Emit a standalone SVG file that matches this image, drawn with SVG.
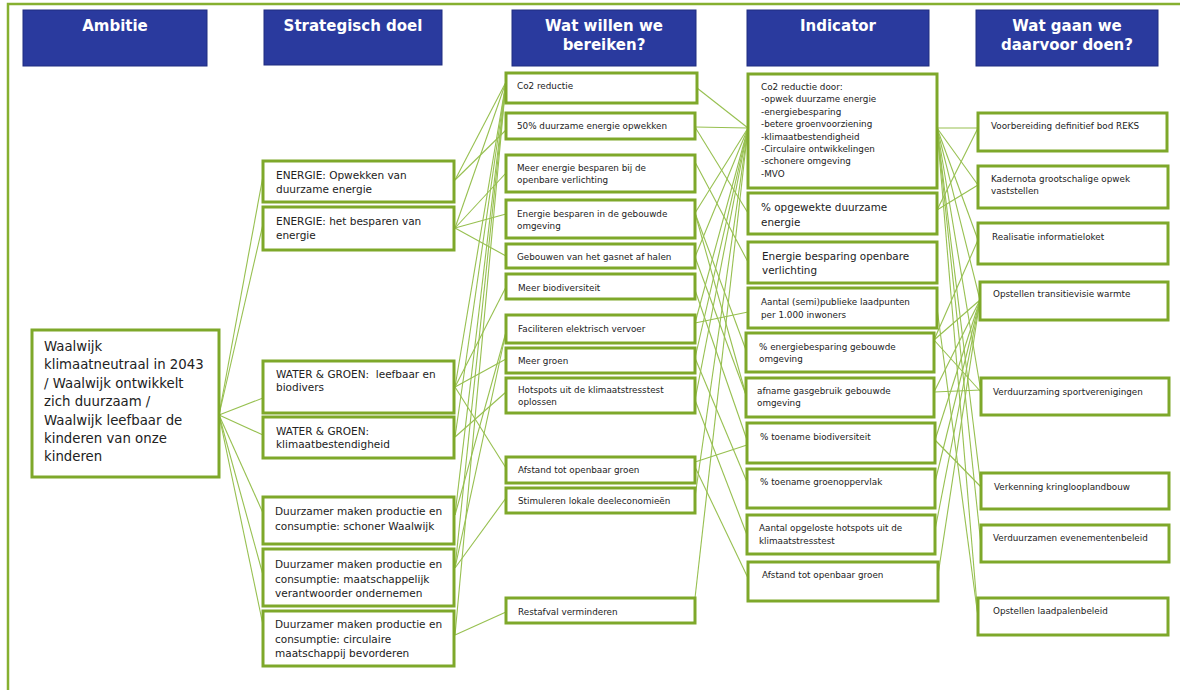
<svg xmlns="http://www.w3.org/2000/svg" width="1180" height="690" viewBox="0 0 1180 690">
<style>
.hdr{fill:#2a3a9e;stroke:#1f2c80;stroke-width:1}
.ht{font-family:"DejaVu Sans",Verdana,sans-serif;font-weight:bold;font-size:15px;fill:#ffffff;text-anchor:middle}
.box{fill:#ffffff;stroke:#7ea82a;stroke-width:3}
.t{font-family:"DejaVu Sans",Verdana,sans-serif;fill:#222222}
.t1{font-size:13.3px}
.t2{font-size:10.5px}
.t3{font-size:8.8px}
.t4{font-size:10.4px}
.cn line{stroke:#97c050;stroke-width:1.1}
</style>
<rect width="1180" height="690" fill="#ffffff"/>
<path d="M8,690 V4 H1180" fill="none" stroke="#86b030" stroke-width="2.5"/>

<g id="headers">
<rect class="hdr" x="23" y="10" width="184" height="56"/>
<text class="ht" x="115" y="31">Ambitie</text>
<rect class="hdr" x="264" y="10" width="178" height="55"/>
<text class="ht" x="353" y="31">Strategisch doel</text>
<rect class="hdr" x="512" y="10" width="184" height="56"/>
<text class="ht" x="604" y="31">Wat willen we</text>
<text class="ht" x="604" y="50">bereiken?</text>
<rect class="hdr" x="747" y="10" width="182" height="56"/>
<text class="ht" x="838" y="31">Indicator</text>
<rect class="hdr" x="976" y="10" width="182" height="56"/>
<text class="ht" x="1067" y="31">Wat gaan we</text>
<text class="ht" x="1067" y="50">daarvoor doen?</text>
</g>

<g id="connectors" class="cn">
<line x1="219" y1="415" x2="263" y2="176"/>
<line x1="219" y1="415" x2="263" y2="224"/>
<line x1="219" y1="415" x2="263" y2="398"/>
<line x1="219" y1="415" x2="263" y2="435"/>
<line x1="219" y1="415" x2="263" y2="513"/>
<line x1="219" y1="415" x2="263" y2="575"/>
<line x1="219" y1="415" x2="263" y2="625"/>

<line x1="455" y1="180" x2="506" y2="82"/>
<line x1="455" y1="180" x2="506" y2="130"/>
<line x1="455" y1="228" x2="506" y2="82"/>
<line x1="455" y1="228" x2="506" y2="173"/>
<line x1="455" y1="228" x2="506" y2="214"/>
<line x1="455" y1="228" x2="506" y2="256"/>
<line x1="455" y1="387" x2="506" y2="82"/>
<line x1="455" y1="387" x2="506" y2="287"/>
<line x1="455" y1="387" x2="506" y2="359"/>
<line x1="455" y1="387" x2="506" y2="468"/>
<line x1="455" y1="437" x2="506" y2="82"/>
<line x1="455" y1="437" x2="506" y2="392"/>
<line x1="455" y1="515" x2="506" y2="82"/>
<line x1="455" y1="515" x2="506" y2="332"/>
<line x1="455" y1="568" x2="506" y2="82"/>
<line x1="455" y1="568" x2="506" y2="332"/>
<line x1="455" y1="568" x2="506" y2="498"/>
<line x1="455" y1="635" x2="506" y2="82"/>
<line x1="455" y1="635" x2="506" y2="612"/>

<line x1="697" y1="88" x2="748" y2="128"/>
<line x1="695" y1="127" x2="748" y2="213"/>
<line x1="695" y1="127" x2="748" y2="128"/>
<line x1="695" y1="162" x2="748" y2="262"/>
<line x1="695" y1="213" x2="748" y2="128"/>
<line x1="695" y1="213" x2="746" y2="350"/>
<line x1="695" y1="213" x2="746" y2="395"/>
<line x1="695" y1="257" x2="748" y2="128"/>
<line x1="695" y1="257" x2="746" y2="395"/>
<line x1="695" y1="290" x2="747" y2="440"/>
<line x1="695" y1="323" x2="748" y2="312"/>
<line x1="695" y1="323" x2="748" y2="128"/>
<line x1="695" y1="358" x2="747" y2="482"/>
<line x1="695" y1="358" x2="748" y2="128"/>
<line x1="695" y1="400" x2="747" y2="535"/>
<line x1="695" y1="400" x2="748" y2="128"/>
<line x1="695" y1="467" x2="748" y2="578"/>
<line x1="695" y1="462" x2="747" y2="445"/>
<line x1="695" y1="497" x2="748" y2="128"/>
<line x1="695" y1="598" x2="748" y2="128"/>

<line x1="937" y1="128" x2="978" y2="128"/>
<line x1="937" y1="128" x2="978" y2="185"/>
<line x1="937" y1="128" x2="978" y2="240"/>
<line x1="937" y1="128" x2="980" y2="300"/>
<line x1="937" y1="128" x2="981" y2="392"/>
<line x1="937" y1="128" x2="981" y2="487"/>
<line x1="937" y1="128" x2="981" y2="545"/>
<line x1="937" y1="128" x2="978" y2="617"/>
<line x1="937" y1="210" x2="978" y2="128"/>
<line x1="937" y1="210" x2="978" y2="185"/>
<line x1="937" y1="308" x2="978" y2="617"/>
<line x1="934" y1="340" x2="978" y2="240"/>
<line x1="934" y1="340" x2="980" y2="300"/>
<line x1="934" y1="340" x2="981" y2="392"/>
<line x1="934" y1="392" x2="980" y2="300"/>
<line x1="934" y1="392" x2="981" y2="390"/>
<line x1="935" y1="440" x2="980" y2="300"/>
<line x1="935" y1="440" x2="981" y2="487"/>
<line x1="935" y1="482" x2="980" y2="300"/>
<line x1="935" y1="530" x2="980" y2="300"/>
<line x1="938" y1="575" x2="980" y2="300"/>
</g>

<g id="ambitie">
<rect class="box" x="32" y="330" width="187" height="147"/>
<text class="t t1" x="44"><tspan x="44" y="351">Waalwijk</tspan><tspan x="44" y="369.4">klimaatneutraal in 2043</tspan><tspan x="44" y="387.8">/ Waalwijk ontwikkelt</tspan><tspan x="44" y="406.2">zich duurzaam /</tspan><tspan x="44" y="424.6">Waalwijk leefbaar de</tspan><tspan x="44" y="443">kinderen van onze</tspan><tspan x="44" y="461.4">kinderen</tspan></text>
</g>

<g id="doel-energie-opwekken">
<rect class="box" x="263" y="161" width="191" height="41"/>
<text class="t t2"><tspan x="276" y="179">ENERGIE: Opwekken van</tspan><tspan x="276" y="193">duurzame energie</tspan></text>
</g>
<g id="doel-energie-besparen">
<rect class="box" x="263" y="207" width="191" height="43"/>
<text class="t t2"><tspan x="276" y="225">ENERGIE: het besparen van</tspan><tspan x="276" y="239">energie</tspan></text>
</g>
<g id="doel-water-leefbaar">
<rect class="box" x="263" y="361" width="191" height="52"/>
<text class="t t2" xml:space="preserve"><tspan x="276" y="378">WATER &amp; GROEN:  leefbaar en</tspan><tspan x="276" y="391">biodivers</tspan></text>
</g>
<g id="doel-water-klimaat">
<rect class="box" x="263" y="417" width="191" height="41"/>
<text class="t t2"><tspan x="276" y="435">WATER &amp; GROEN:</tspan><tspan x="276" y="447.5">klimaatbestendigheid</tspan></text>
</g>
<g id="doel-schoner">
<rect class="box" x="263" y="497" width="191" height="47"/>
<text class="t t2"><tspan x="275" y="515">Duurzamer maken productie en</tspan><tspan x="275" y="529.5">consumptie: schoner Waalwijk</tspan></text>
</g>
<g id="doel-mvo">
<rect class="box" x="263" y="549" width="191" height="57"/>
<text class="t t2"><tspan x="275" y="568">Duurzamer maken productie en</tspan><tspan x="275" y="582.5">consumptie: maatschappelijk</tspan><tspan x="275" y="597">verantwoorder ondernemen</tspan></text>
</g>
<g id="doel-circulair">
<rect class="box" x="263" y="611" width="191" height="55"/>
<text class="t t2"><tspan x="275" y="628">Duurzamer maken productie en</tspan><tspan x="275" y="642.5">consumptie: circulaire</tspan><tspan x="275" y="657">maatschappij bevorderen</tspan></text>
</g>

<g id="wat-co2">
<rect class="box" x="506" y="73" width="191" height="30"/>
<text class="t t3" x="517" y="89">Co2 reductie</text>
</g>
<g id="wat-50">
<rect class="box" x="506" y="113" width="189" height="26"/>
<text class="t t3" x="517" y="128.5">50% duurzame energie opwekken</text>
</g>
<g id="wat-verlichting">
<rect class="box" x="506" y="155" width="189" height="37"/>
<text class="t t3"><tspan x="517" y="171">Meer energie besparen bij de</tspan><tspan x="517" y="183">openbare verlichting</tspan></text>
</g>
<g id="wat-gebouwde">
<rect class="box" x="506" y="200" width="189" height="38"/>
<text class="t t3"><tspan x="517" y="217">Energie besparen in de gebouwde</tspan><tspan x="517" y="229">omgeving</tspan></text>
</g>
<g id="wat-gasnet">
<rect class="box" x="506" y="244" width="189" height="24"/>
<text class="t t3" x="517" y="260">Gebouwen van het gasnet af halen</text>
</g>
<g id="wat-biodiversiteit">
<rect class="box" x="506" y="274" width="189" height="25"/>
<text class="t t3" x="518" y="291">Meer biodiversiteit</text>
</g>
<g id="wat-vervoer">
<rect class="box" x="506" y="315" width="189" height="28"/>
<text class="t t3" x="518" y="332">Faciliteren elektrisch vervoer</text>
</g>
<g id="wat-groen">
<rect class="box" x="506" y="348" width="189" height="25"/>
<text class="t t3" x="518" y="364">Meer groen</text>
</g>
<g id="wat-hotspots">
<rect class="box" x="506" y="378" width="189" height="35"/>
<text class="t t3"><tspan x="518" y="393">Hotspots uit de klimaatstresstest</tspan><tspan x="518" y="405">oplossen</tspan></text>
</g>
<g id="wat-afstand">
<rect class="box" x="506" y="457" width="189" height="26"/>
<text class="t t3" x="518" y="473">Afstand tot openbaar groen</text>
</g>
<g id="wat-deeleconomie">
<rect class="box" x="506" y="488" width="189" height="25"/>
<text class="t t3" x="518" y="504">Stimuleren lokale deeleconomieën</text>
</g>
<g id="wat-restafval">
<rect class="box" x="506" y="598" width="189" height="25"/>
<text class="t t3" x="518" y="615">Restafval verminderen</text>
</g>

<g id="ind-co2">
<rect class="box" x="748" y="74" width="189" height="114"/>
<text class="t t3"><tspan x="761" y="90">Co2 reductie door:</tspan><tspan x="761" y="102.4">-opwek duurzame energie</tspan><tspan x="761" y="114.8">-energiebesparing</tspan><tspan x="761" y="127.2">-betere groenvoorziening</tspan><tspan x="761" y="139.6">-klimaatbestendigheid</tspan><tspan x="761" y="152">-Circulaire ontwikkelingen</tspan><tspan x="761" y="164.4">-schonere omgeving</tspan><tspan x="761" y="176.8">-MVO</tspan></text>
</g>
<g id="ind-opgewekt">
<rect class="box" x="748" y="193" width="189" height="41"/>
<text class="t t4"><tspan x="761" y="211">% opgewekte duurzame</tspan><tspan x="761" y="226">energie</tspan></text>
</g>
<g id="ind-verlichting">
<rect class="box" x="748" y="242" width="189" height="41"/>
<text class="t t4"><tspan x="762" y="260">Energie besparing openbare</tspan><tspan x="762" y="274">verlichting</tspan></text>
</g>
<g id="ind-laadpunten">
<rect class="box" x="748" y="288" width="189" height="40"/>
<text class="t t3"><tspan x="761" y="305">Aantal (semi)publieke laadpunten</tspan><tspan x="761" y="318">per 1.000 inwoners</tspan></text>
</g>
<g id="ind-gebouwde">
<rect class="box" x="746" y="333" width="188" height="39"/>
<text class="t t3"><tspan x="759" y="350">% energiebesparing gebouwde</tspan><tspan x="759" y="362">omgeving</tspan></text>
</g>
<g id="ind-gas">
<rect class="box" x="746" y="378" width="188" height="39"/>
<text class="t t3"><tspan x="757" y="394">afname gasgebruik gebouwde</tspan><tspan x="757" y="406">omgeving</tspan></text>
</g>
<g id="ind-biodiversiteit">
<rect class="box" x="747" y="423" width="188" height="40"/>
<text class="t t3" x="760" y="440">% toename biodiversiteit</text>
</g>
<g id="ind-groen">
<rect class="box" x="747" y="469" width="188" height="39"/>
<text class="t t3" x="760" y="485">% toename groenoppervlak</text>
</g>
<g id="ind-hotspots">
<rect class="box" x="747" y="515" width="188" height="39"/>
<text class="t t3"><tspan x="759" y="531">Aantal opgeloste hotspots uit de</tspan><tspan x="759" y="544">klimaatstresstest</tspan></text>
</g>
<g id="ind-afstand">
<rect class="box" x="748" y="562" width="190" height="39"/>
<text class="t t3" x="762" y="578">Afstand tot openbaar groen</text>
</g>

<g id="doen-reks">
<rect class="box" x="978" y="113" width="189" height="38"/>
<text class="t t3" x="991" y="129">Voorbereiding definitief bod REKS</text>
</g>
<g id="doen-kadernota">
<rect class="box" x="978" y="166" width="190" height="42"/>
<text class="t t3"><tspan x="991" y="182">Kadernota grootschalige opwek</tspan><tspan x="991" y="194">vaststellen</tspan></text>
</g>
<g id="doen-loket">
<rect class="box" x="978" y="223" width="190" height="41"/>
<text class="t t3" x="992" y="240">Realisatie informatieloket</text>
</g>
<g id="doen-warmte">
<rect class="box" x="980" y="282" width="188" height="38"/>
<text class="t t3" x="993" y="297">Opstellen transitievisie warmte</text>
</g>
<g id="doen-sport">
<rect class="box" x="981" y="378" width="188" height="37"/>
<text class="t t3" x="993" y="395">Verduurzaming sportverenigingen</text>
</g>
<g id="doen-kringloop">
<rect class="box" x="981" y="473" width="188" height="36"/>
<text class="t t3" x="994" y="490">Verkenning kringlooplandbouw</text>
</g>
<g id="doen-evenementen">
<rect class="box" x="981" y="525" width="188" height="37"/>
<text class="t t3" x="993" y="541">Verduurzamen evenementenbeleid</text>
</g>
<g id="doen-laadpalen">
<rect class="box" x="978" y="598" width="190" height="37"/>
<text class="t t3" x="993" y="614">Opstellen laadpalenbeleid</text>
</g>
</svg>
